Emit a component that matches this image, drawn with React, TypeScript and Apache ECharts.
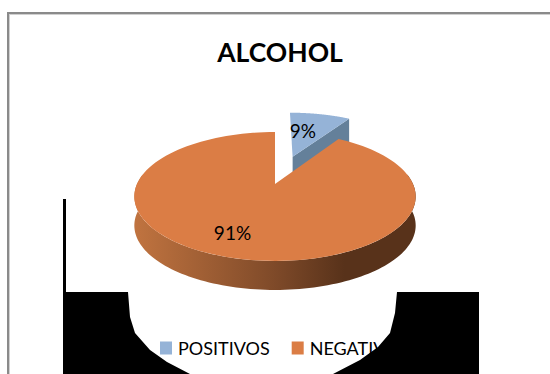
import React, { useEffect, useRef } from "react";
import * as echarts from "echarts";

const titleText = "ALCOHOL";
const categories = ["POSITIVOS", "NEGATIVOS"];
const values = [9, 91];

const APEX_X = 275, APEX_Y = 184, RX = 138, RY = 62, PERSP = 0.194;
const EXPLODE = [0.5, 0];
const DEPTH = [25, 29];
const LABEL_R = [0.59, 0.71];
const LABEL_SHIFT = [[-7, 0], [-11, 0]];
const TOP = ["#95B3D7", "#DB7D45"];
const SIDE: any[] = [
  "#64809A",
  new echarts.graphic.LinearGradient(133, 0, 415, 0, [
    { offset: 0, color: "#C17440" },
    { offset: 0.5, color: "#7F4A29" },
    { offset: 0.75, color: "#58321A" },
    { offset: 1, color: "#58321A" },
  ], true),
];

function project(u: number, v: number): number[] {
  const s = 1 / (1 + PERSP * v);
  return [APEX_X + RX * u * s, APEX_Y - RY * v * s];
}

function renderSlice(index: number) {
  return (_params: any, api: any) => {
    const value = api.value(0);
    const total = values.reduce((a, b) => a + b, 0);
    let start = 0;
    for (let i = 0; i < index; i++) start += (values[i] / total) * Math.PI * 2;
    const end = start + (value / total) * Math.PI * 2;
    const mid = (start + end) / 2;
    const du = EXPLODE[index] * Math.sin(mid);
    const dv = EXPLODE[index] * Math.cos(mid);
    const at = (r: number, t: number) => project(du + r * Math.sin(t), dv + r * Math.cos(t));
    const apex = project(du, dv);
    const top: number[][] = [apex];
    const steps = 120;
    for (let i = 0; i <= steps; i++) top.push(at(1, start + ((end - start) * i) / steps));

    const depth = DEPTH[index];
    const side: number[][] = [];
    if (index === 0) {
      const rimEnd = at(1, end);
      side.push(apex, rimEnd, [rimEnd[0], rimEnd[1] + depth], [apex[0], apex[1] + depth]);
    } else {
      const rim: number[][] = [];
      for (let i = 0; i <= steps; i++) {
        const t = Math.PI * 0.45 + (Math.PI * 1.1 * i) / steps;
        rim.push(at(1, t));
      }
      side.push(...rim);
      for (let i = rim.length - 1; i >= 0; i--) side.push([rim[i][0], rim[i][1] + depth]);
    }

    const lp = at(LABEL_R[index], mid);
    return {
      type: "group",
      children: [
        { type: "polygon", shape: { points: side }, style: { fill: SIDE[index] } },
        { type: "polygon", shape: { points: top }, style: { fill: TOP[index] } },
        {
          type: "text",
          x: lp[0] + LABEL_SHIFT[index][0],
          y: lp[1] + LABEL_SHIFT[index][1],
          style: {
            text: `${value}%`,
            fill: "#000",
            font: "19px Lato",
            align: "center",
            verticalAlign: "middle",
          },
        },
      ],
    };
  };
}

const frame = [
  { type: "rect", z: 90, shape: { x: 7, y: 12, width: 543, height: 2 }, style: { fill: "#8a8a8a" } },
  { type: "rect", z: 90, shape: { x: 9, y: 14, width: 541, height: 1 }, style: { fill: "#d0d0d0" } },
  { type: "rect", z: 90, shape: { x: 7, y: 12, width: 2, height: 362 }, style: { fill: "#8a8a8a" } },
  { type: "rect", z: 90, shape: { x: 9, y: 14, width: 1, height: 360 }, style: { fill: "#d0d0d0" } },
];

const blackLeft = [[63, 199], [66, 199], [66, 292], [128, 292], [130, 317], [135, 333], [150, 350], [167, 362], [190, 374], [63, 374]];
const blackRight = [[397, 292], [479, 292], [479, 374], [333, 374], [360, 360], [378, 347], [390, 333], [395, 313]];

export default function App() {
  const ref = useRef<HTMLDivElement>(null);
  useEffect(() => {
    const chart = echarts.init(ref.current!, null, { renderer: "svg" });
    chart.setOption({
      animation: false,
      backgroundColor: "#fff",
      title: {
        text: titleText,
        left: 275,
        top: 33,
        textAlign: "center",
        textStyle: { fontFamily: "Lato", fontWeight: "bold", fontSize: 26.5, color: "#000" },
      },
      legend: {
        data: categories,
        left: 160,
        top: 339,
        padding: 0,
        icon: "rect",
        itemWidth: 12,
        itemHeight: 13,
        itemGap: 22,
        textStyle: { fontFamily: "Lato", fontSize: 18, color: "#000", padding: [0, 0, 0, 1] },
      },
      graphic: [
        ...frame,
        { type: "polygon", z: 100, shape: { points: blackLeft }, style: { fill: "#000" } },
        { type: "polygon", z: 100, shape: { points: blackRight }, style: { fill: "#000" } },
      ],
      series: categories.map((name, i) => ({
        type: "custom",
        name,
        coordinateSystem: "none",
        itemStyle: { color: TOP[i] },
        data: [[values[i]]],
        renderItem: renderSlice(i),
      })),
    });
    return () => chart.dispose();
  }, []);
  return <div ref={ref} style={{ position: "absolute", left: 0, top: 0, width: 550, height: 374 }} />;
}
